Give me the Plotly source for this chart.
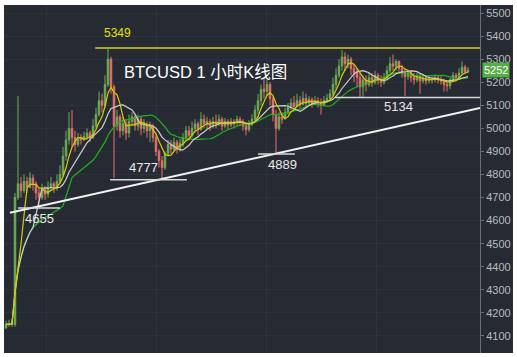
import plotly.graph_objects as go
import pandas as pd

first_open = 4135
close = [4150, 4155, 4150, 4700, 4760, 4730, 4770, 4745, 4785, 4760,
         4720, 4700, 4735, 4715, 4745, 4760, 4740, 4770, 4800, 4880,
         4950, 5000, 4960, 4930, 4960, 4950, 4965, 4980, 4960, 5010,
         5060, 5120, 5100, 5190, 5300, 5180, 5010, 5050, 4990, 5020,
         4980, 5030, 5050, 5010, 5040, 5000, 5020, 4990, 5010, 4960,
         4900, 4860, 4830, 4890, 4930, 4910, 4940, 4910, 4935, 4960,
         4990, 4970, 5000, 5020, 4995, 5040, 5020, 5030, 5010, 5030,
         5020, 5040, 5010, 5030, 5015, 5030, 5025, 5040, 5030, 5010,
         4995, 5020, 5040, 5080, 5120, 5170, 5160, 5190, 5130, 5060,
         5000, 5050, 5040, 5070, 5090, 5110, 5095, 5120, 5105, 5130,
         5110, 5125, 5105, 5120, 5110, 5100, 5120, 5130, 5150, 5190,
         5230, 5270, 5310, 5280, 5300, 5260, 5240, 5220, 5180, 5210,
         5190, 5220, 5200, 5230, 5210, 5200, 5220, 5250, 5280, 5270,
         5290, 5260, 5240, 5225, 5240, 5220, 5210, 5225, 5205, 5220,
         5205, 5215, 5210, 5220, 5210, 5205, 5190, 5185, 5210, 5230,
         5220, 5240, 5265, 5245, 5252]
high = [4165, 4170, 4175, 4720, 5140, 4790, 4800, 4790, 4810, 4800,
        4770, 4740, 4760, 4750, 4770, 4790, 4770, 4800, 4840, 4920,
        4990, 5070, 5080, 4990, 4980, 4975, 4985, 5000, 4990, 5040,
        5090, 5160, 5150, 5230, 5349, 5310, 5190, 5080, 5060, 5050,
        5040, 5060, 5070, 5060, 5060, 5050, 5040, 5030, 5030, 5020,
        4970, 4910, 4880, 4900, 4950, 4950, 4960, 4950, 4955, 4980,
        5010, 5010, 5030, 5040, 5030, 5070, 5060, 5050, 5040, 5050,
        5060, 5060, 5050, 5045, 5040, 5045, 5040, 5055, 5050, 5040,
        5020, 5035, 5060, 5100, 5150, 5190, 5220, 5210, 5200, 5140,
        5080, 5070, 5070, 5090, 5110, 5130, 5140, 5150, 5140, 5160,
        5150, 5140, 5135, 5140, 5135, 5130, 5140, 5150, 5170, 5220,
        5260, 5300, 5340, 5330, 5320, 5310, 5280, 5260, 5240, 5230,
        5230, 5240, 5240, 5250, 5240, 5230, 5240, 5270, 5310, 5320,
        5300, 5295, 5275, 5260, 5255, 5250, 5240, 5240, 5235, 5235,
        5230, 5230, 5225, 5235, 5230, 5225, 5215, 5205, 5220, 5245,
        5240, 5260, 5290, 5275, 5265]
low = [4130, 4140, 4140, 4140, 4690, 4700, 4720, 4720, 4740, 4730,
       4690, 4655, 4690, 4690, 4700, 4730, 4720, 4730, 4760, 4790,
       4860, 4930, 4920, 4900, 4920, 4930, 4945, 4950, 4940, 4955,
       5000, 5050, 5070, 5090, 5180, 5150, 4785, 4990, 4960, 4970,
       4950, 4960, 5010, 4990, 4990, 4970, 4980, 4960, 4940, 4940,
       4880, 4830, 4777, 4820, 4880, 4890, 4900, 4890, 4900, 4920,
       4950, 4950, 4960, 4980, 4970, 4990, 5000, 5000, 4990, 5000,
       5000, 5010, 4990, 5000, 4995, 5005, 5000, 5010, 5010, 4990,
       4970, 4985, 5010, 5030, 5060, 5100, 5130, 5140, 5100, 5030,
       4889, 4990, 5020, 5040, 5060, 5080, 5080, 5090, 5090, 5100,
       5095, 5100, 5090, 5100, 5090, 5060, 5095, 5110, 5120, 5140,
       5170, 5220, 5250, 5250, 5260, 5230, 5200, 5180, 5134, 5134,
       5160, 5180, 5180, 5190, 5190, 5180, 5190, 5210, 5240, 5250,
       5250, 5240, 5220, 5140, 5210, 5200, 5190, 5200, 5150, 5195,
       5190, 5195, 5195, 5200, 5195, 5190, 5160, 5160, 5170, 5205,
       5205, 5215, 5235, 5235, 5240]

y_ticks = [4100, 4200, 4300, 4400, 4500, 4600, 4700, 4800, 4900, 5000,
           5100, 5200, 5300, 5400, 5500]
title_text = "BTCUSD 1 小时K线图"
level_labels = ["4655", "4777", "4889", "5134"]
level_values = [4655, 4777, 4889, 5134]
peak_value = 5349
last_price = 5252
trend_start = 4634
trend_end = 5088

n = len(close)
xs = list(range(n))
opens = [first_open] + close[:-1]
s = pd.Series(close)
ma5 = s.rolling(5, min_periods=1).mean()
ma10 = s.rolling(10, min_periods=1).mean()
ma20 = s.rolling(20, min_periods=1).mean()

BG = "#262b33"
fig = go.Figure()
fig.add_trace(go.Candlestick(
    x=xs, open=opens, high=high, low=low, close=close,
    increasing=dict(line=dict(color="#6fae55", width=1), fillcolor="#6fae55"),
    decreasing=dict(line=dict(color="#e8706f", width=1), fillcolor="#e8706f"),
    hoverinfo="skip", showlegend=False))
for ma, col in [(ma20, "#1db31d"), (ma10, "#cfcfcf"), (ma5, "#d8cc00")]:
    fig.add_trace(go.Scatter(x=xs, y=ma, mode="lines",
                             line=dict(color=col, width=1.2),
                             hoverinfo="skip", showlegend=False))

# dark background incl. axis area
fig.add_shape(type="rect", xref="paper", yref="paper", x0=0, x1=1.0693,
              y0=0, y1=1, fillcolor=BG, line=dict(width=0), layer="below")

# peak line
fig.add_shape(type="line", x0=29.7, x1=158, y0=peak_value, y1=peak_value,
              line=dict(color="#a9a62c", width=2))
fig.add_annotation(x=37.3, y=5413, text=str(peak_value), showarrow=False,
                   font=dict(color="#e6e000", size=12, family="Liberation Sans"))
# trend line
fig.add_shape(type="line", x0=1.3, x1=158, y0=trend_start, y1=trend_end,
              line=dict(color="#f2f2f2", width=2))
# level lines and labels
seg = {"4655": (4, 18, 11.3, 4610), "4777": (34.7, 60.3, 45.7, 4830),
       "4889": (84, 96.3, 92, 4845), "5134": (109.7, 158, 130.7, 5093)}
for lab, val in zip(level_labels, level_values):
    x0, x1, tx, ty = seg[lab]
    fig.add_shape(type="line", x0=x0, x1=x1, y0=val, y1=val,
                  line=dict(color="#d8d8d8", width=1.5))
    fig.add_annotation(x=tx, y=ty, text=lab, showarrow=False,
                       font=dict(color="#e8e8e8", size=13, family="Liberation Sans"))
fig.add_annotation(x=38.7, y=5244, text=title_text, showarrow=False, xanchor="left",
                   font=dict(color="#ffffff", size=16.5,
                             family="Liberation Sans, Noto Sans CJK SC"))
# last price tag
fig.add_annotation(xref="paper", x=1.004, y=last_price, text=str(last_price),
                   showarrow=False, xanchor="left", bgcolor="#55ad45",
                   borderpad=1, font=dict(color="#ffffff", size=11,
                                          family="Liberation Sans"))

fig.update_layout(
    width=517, height=357,
    margin=dict(l=4, r=37, t=5, b=4),
    paper_bgcolor="#ffffff", plot_bgcolor=BG,
    xaxis=dict(range=[-0.67, 158], rangeslider=dict(visible=False),
               showticklabels=False, showgrid=True,
               gridcolor="rgba(255,255,255,0.035)", tick0=13.33, dtick=36.67,
               zeroline=False, showline=False, fixedrange=True),
    yaxis=dict(range=[4026, 5535], side="right", tickvals=y_ticks,
               showgrid=True, gridcolor="rgba(255,255,255,0.035)",
               showline=True, linecolor="#6a6e74", linewidth=1,
               ticks="outside", ticklen=3, tickcolor="#6a6e74",
               tickfont=dict(color="#b8bcc0", size=11, family="Liberation Sans"),
               zeroline=False, fixedrange=True),
)
fig.write_html("out.html")
